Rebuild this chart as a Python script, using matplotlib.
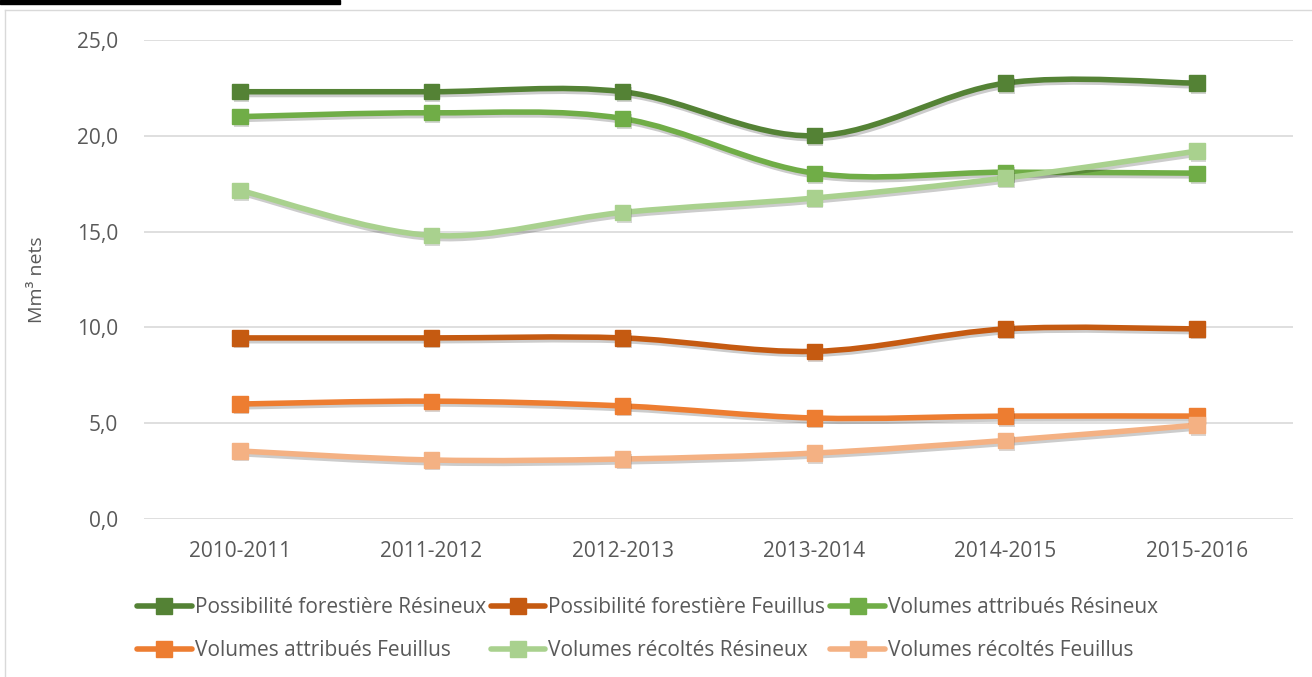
import numpy as np
import matplotlib
matplotlib.use('Agg')
import matplotlib.pyplot as plt
from matplotlib.path import Path
from matplotlib.patches import PathPatch, Rectangle
from matplotlib.lines import Line2D
import matplotlib.patheffects as pe

# data (Mm³ nets)
seasons = ['2010-2011', '2011-2012', '2012-2013', '2013-2014', '2014-2015', '2015-2016']
poss_res = [22.3, 22.3, 22.3, 20.0, 22.75, 22.75]
poss_feu = [9.45, 9.45, 9.45, 8.75, 9.92, 9.92]
attr_res = [21.0, 21.2, 20.9, 18.05, 18.1, 18.05]
attr_feu = [6.0, 6.15, 5.9, 5.27, 5.37, 5.37]
reco_res = [17.15, 14.8, 16.0, 16.75, 17.8, 19.2]
reco_feu = [3.55, 3.08, 3.13, 3.44, 4.1, 4.9]

labels = ['Possibilité forestière Résineux', 'Possibilité forestière Feuillus',
          'Volumes attribués Résineux', 'Volumes attribués Feuillus',
          'Volumes récoltés Résineux', 'Volumes récoltés Feuillus']
series = [poss_res, poss_feu, attr_res, attr_feu, reco_res, reco_feu]
colors = ['#548235', '#C55A11', '#70AD47', '#ED7D31', '#A9D18E', '#F4B183']

plt.rcParams['font.family'] = ['Open Sans', 'DejaVu Sans']
text_col = '#595959'


def smooth_path(xs, ys):
    # cubic bezier through the points, excel-like smoothing
    pts = np.column_stack([xs, ys]).astype(float)
    n = len(pts)
    verts = [pts[0]]
    codes = [Path.MOVETO]
    for i in range(n - 1):
        p0 = pts[max(i - 1, 0)]
        p1 = pts[i]
        p2 = pts[i + 1]
        p3 = pts[min(i + 2, n - 1)]
        c1 = p1 + (p2 - p0) / 6.0
        c2 = p2 - (p3 - p1) / 6.0
        verts += [c1, c2, p2]
        codes += [Path.CURVE4] * 3
    return Path(verts, codes)


fig = plt.figure(figsize=(13.12, 6.77), dpi=100)
ax = fig.add_axes([144.3 / 1312, 1 - 519 / 677, 1148.4 / 1312, 479 / 677])

x = np.arange(len(seasons))
for ys, c in zip(series, colors):
    patch = PathPatch(smooth_path(x, ys), fill=False, edgecolor=c, lw=4,
                      capstyle='round', joinstyle='round', zorder=3)
    patch.set_path_effects([pe.SimpleLineShadow(offset=(1, -2), alpha=0.2), pe.Normal()])
    ax.add_patch(patch)
    ax.plot(x, ys, linestyle='none', marker='s', markersize=11, color=c,
            markeredgecolor=c, zorder=4,
            path_effects=[pe.SimplePatchShadow(offset=(1, -2), alpha=0.2), pe.Normal()])

ax.set_xlim(-0.5, 5.5)
ax.set_ylim(0, 25)
ax.set_yticks(np.arange(0, 26, 5))
ax.set_yticklabels([f'{v:.1f}'.replace('.', ',') for v in np.arange(0, 26, 5)])
ax.set_xticks(x)
ax.set_xticklabels(seasons)
ax.grid(axis='y', color='#D9D9D9', lw=1.2)
ax.set_axisbelow(True)
for s in ax.spines.values():
    s.set_visible(False)
ax.tick_params(length=0, labelsize=15, colors=text_col)
ax.tick_params(axis='x', pad=16)
ax.tick_params(axis='y', pad=19)
ax.set_ylabel('Mm³ nets', fontsize=14, color=text_col, labelpad=22)

handles = [Line2D([], [], color=c, lw=4, marker='s', markersize=11,
                  solid_capstyle='round') for c in colors]
order = [0, 3, 1, 4, 2, 5]
fig.legend([handles[i] for i in order], [labels[i] for i in order],
           ncol=3, frameon=False, fontsize=15, labelcolor=text_col,
           loc='upper left', bbox_to_anchor=(129 / 1312, 1 - 589 / 677),
           handlelength=2.6, handletextpad=0.15, columnspacing=0.25,
           labelspacing=1.05, borderaxespad=0)

# chart border and title bar
fig.add_artist(Line2D([5 / 1312, 1], [1 - 10 / 677, 1 - 10 / 677], color='#D9D9D9', lw=1,
                      transform=fig.transFigure))
fig.add_artist(Line2D([5 / 1312, 5 / 1312], [0, 1 - 10 / 677], color='#D9D9D9', lw=1,
                      transform=fig.transFigure))
fig.add_artist(Rectangle((0, 1 - 4 / 677), 340 / 1312, 4 / 677, color='black',
                         transform=fig.transFigure))

fig.savefig('out.png', dpi=100)
